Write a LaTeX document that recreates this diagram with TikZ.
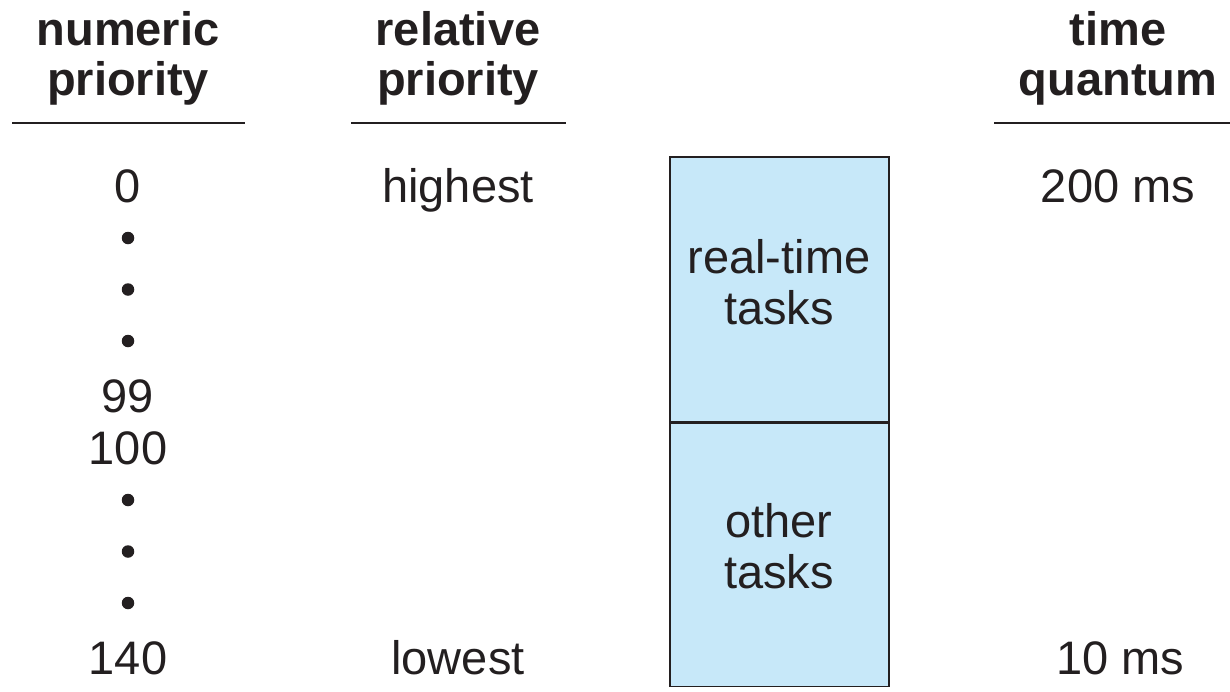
\documentclass[tikz,border=0pt]{standalone}
\usepackage{fontspec}
\setmainfont{Liberation Sans}
\definecolor{ink}{HTML}{231F20}
\definecolor{boxfill}{HTML}{C7E8F9}
\begin{document}
\begin{tikzpicture}[x=1pt,y=-1pt,
  txt/.style={anchor=base,inner sep=0pt,text=ink,font=\fontsize{47}{50}\selectfont},
  hdr/.style={anchor=base,inner sep=0pt,text=ink,font=\fontsize{47}{50}\selectfont\bfseries},
  rule/.style={draw=ink,line width=2pt},
  dot/.style={circle,fill=ink,inner sep=0pt,minimum size=12.5pt},
  task/.style={draw=ink,line width=1.6pt,fill=boxfill,minimum width=219pt,inner sep=0pt}]
\useasboundingbox (0,0) rectangle (1230,691);
% headers
\node[hdr] (h1a) at (128,45) {numeric};
\node[hdr] (h1b) at (128,95) {priority};
\node[hdr] (h2a) at (458,45) {relative};
\node[hdr] (h2b) at (458,95) {priority};
\node[hdr] (h3a) at (1118,45) {time};
\node[hdr] (h3b) at (1118,95) {quantum};
\coordinate (r1a) at (12,122.5); \coordinate (r1b) at (245,122.5);
\coordinate (r2a) at (351,122.5); \coordinate (r2b) at (566,122.5);
\coordinate (r3a) at (994,122.5); \coordinate (r3b) at (1230,122.5);
\draw[rule] (r1a) -- (r1b);
\draw[rule] (r2a) -- (r2b);
\draw[rule] (r3a) -- (r3b);
% numeric column
\node[txt] (n0) at (128,202) {0};
\node[dot] (d1) at (128,238) {};
\node[dot] (d2) at (128,289.5) {};
\node[dot] (d3) at (128,341) {};
\node[txt] (n99) at (128,412) {99};
\node[txt] (n100) at (128,464) {100};
\node[dot] (d4) at (128,500) {};
\node[dot] (d5) at (128,551.5) {};
\node[dot] (d6) at (128,603) {};
\node[txt] (n140) at (128,674) {140};
% relative column
\node[txt] (hi) at (458,202) {highest};
\node[txt] (lo) at (458,674) {lowest};
% boxes
\node[task,minimum height=265pt] (rt) at (779.5,289.5) {};
\node[task,minimum height=263pt,anchor=north] (ot) at (rt.south) {};
\node[txt] (rt1) at (779,273) {real-time};
\node[txt] (rt2) at (779,324) {tasks};
\node[txt] (ot1) at (779,537) {other};
\node[txt] (ot2) at (779,588) {tasks};
% quantum column
\node[txt] (q1) at (1118,202) {200 ms};
\node[txt] (q2) at (1120,674) {10 ms};
\end{tikzpicture}
\end{document}
